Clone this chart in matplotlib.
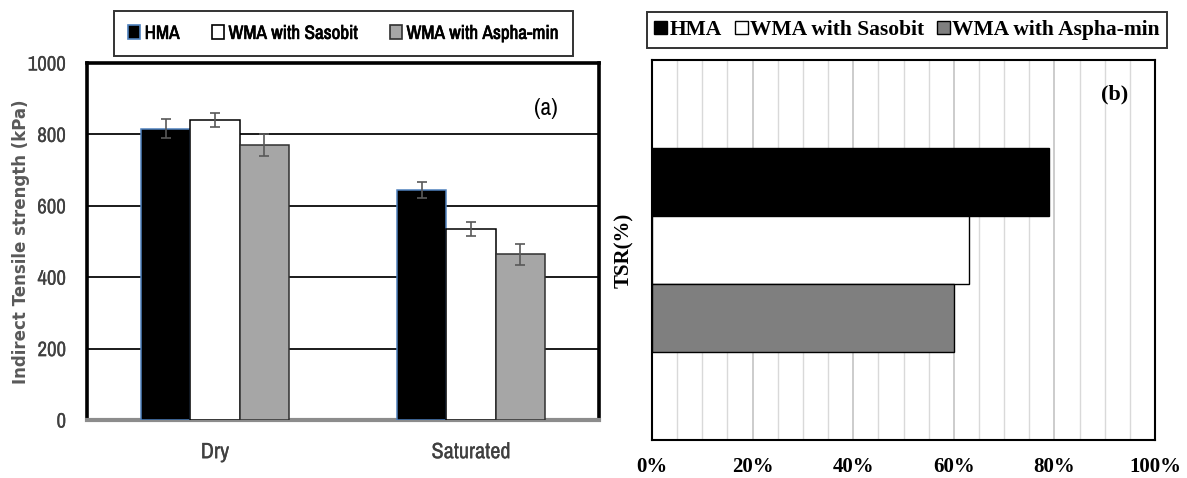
import matplotlib
matplotlib.use("Agg")
import matplotlib.pyplot as plt
from matplotlib.patches import Patch
from matplotlib.ticker import MultipleLocator, FuncFormatter
from matplotlib import font_manager
import matplotlib.patheffects as pe
import numpy as np

# ---------------- data ----------------
conditions = ["Dry", "Saturated"]
series = ["HMA", "WMA with Sasobit", "WMA with Aspha-min"]
itsm_hma = [816, 645]
itsm_sasobit = [840, 535]
itsm_aspha = [770, 464]
err_hma = [26, 22]
err_sasobit = [20, 20]
err_aspha = [30, 29]
y_ticks_a = [0, 200, 400, 600, 800, 1000]

tsr_values = [0.79, 0.63, 0.60]   # HMA, Sasobit, Aspha-min
x_ticks_b = [0.0, 0.2, 0.4, 0.6, 0.8, 1.0]

# ---------------- fonts ----------------
ttf = font_manager.fontManager.ttflist
narrow_name = None
for f in ttf:
    if "Narrow" in f.name or "Condensed" in f.name:
        narrow_name = f.name
        break
has_bold = False
if narrow_name:
    NARROW = dict(family=[narrow_name, "DejaVu Sans"])
    has_bold = any(f.name == narrow_name and (f.weight in ("bold", "semibold", "demibold")
                   or (isinstance(f.weight, int) and f.weight >= 600)) for f in ttf)
else:
    NARROW = dict(family=["Roboto", "DejaVu Sans"])
    has_bold = True
SERIF = ["Liberation Serif", "DejaVu Serif"]

W, H = 1187, 478
fig = plt.figure(figsize=(W / 100, H / 100), dpi=100)

def fx(px):
    return px / W

def fy(py):
    return 1 - py / H

# ---------------- panel (a) ----------------
axa = fig.add_axes([fx(87), fy(420), fx(599) - fx(87), fy(63) - fy(420)])
x = np.arange(len(conditions))
bw = 0.193
fills = ["#000000", "#ffffff", "#a6a6a6"]
edges = ["#4f81bd", "#000000", "#303030"]
vals = [itsm_hma, itsm_sasobit, itsm_aspha]
errs = [err_hma, err_sasobit, err_aspha]
for i in range(3):
    axa.bar(x + (i - 1) * bw, vals[i], width=bw, color=fills[i], edgecolor=edges[i],
            linewidth=1.1, zorder=3,
            yerr=errs[i], error_kw=dict(ecolor="#595959", elinewidth=1.2, capsize=3.5,
                                         capthick=1.2, zorder=4))
axa.set_xlim(-0.5, 1.5)
axa.set_ylim(0, 1000)
axa.set_yticks(y_ticks_a)
axa.set_xticks(x)
light = [pe.withStroke(linewidth=0.15, foreground="#404040")]
axa.set_xticklabels(conditions, fontsize=16, color="#404040", **NARROW)
axa.set_yticklabels([str(v) for v in y_ticks_a], fontsize=15, color="#404040", **NARROW)
for lab in axa.get_xticklabels() + axa.get_yticklabels():
    lab.set_path_effects(light)
axa.tick_params(axis="x", length=0, pad=16)
axa.tick_params(axis="y", length=0, pad=15)
axa.yaxis.grid(True, color="#1a1a1a", linewidth=1.4, zorder=0)
axa.set_axisbelow(True)
for s in ["left", "top", "right"]:
    axa.spines[s].set_linewidth(2.6)
    axa.spines[s].set_color("#000000")
axa.spines["bottom"].set_linewidth(3)
axa.spines["bottom"].set_color("#8c8c8c")
axa.set_ylabel("Indirect Tensile strength (kPa)", fontsize=12, fontweight="bold",
               color="#595959", family="DejaVu Sans")
axa.yaxis.set_label_coords(-0.112, 0.5)
axa.text(0.897, 0.872, "(a)", transform=axa.transAxes, fontsize=17,
         ha="center", va="center", color="#000000", **NARROW)

handles_a = [Patch(facecolor=fills[i], edgecolor=edges[i], linewidth=1.2) for i in range(3)]
lega = fig.legend(handles_a, series, loc="center", bbox_to_anchor=(fx(343.5), fy(33.5)),
                  ncol=3, frameon=True, fancybox=False, edgecolor="#000000",
                  prop=dict(weight="bold", size=13.8, **NARROW),
                  handlelength=0.6, handleheight=0.75, handletextpad=0.25,
                  columnspacing=1.7, borderpad=0.75)
lega.get_frame().set_linewidth(1.4)
if not has_bold:
    for t in lega.get_texts():
        t.set_path_effects([pe.withStroke(linewidth=0.5, foreground="#000000")])

# ---------------- panel (b) ----------------
axb = fig.add_axes([fx(652), fy(440), fx(1155) - fx(652), fy(60) - fy(440)])
bh = 0.179
fills_b = ["#000000", "#ffffff", "#7f7f7f"]
for i in range(3):
    axb.barh([(1 - i) * bh], [tsr_values[i]], height=bh, color=fills_b[i],
             edgecolor="#000000", linewidth=1.0, zorder=3)
axb.set_ylim(-0.5, 0.5)
axb.set_xlim(0, 1.0)
axb.set_yticks([])
axb.set_xticks(x_ticks_b)
axb.xaxis.set_minor_locator(MultipleLocator(0.05))
axb.xaxis.set_major_formatter(FuncFormatter(lambda v, p: f"{v * 100:.0f}%"))
for lab in axb.get_xticklabels():
    lab.set_fontfamily(SERIF)
    lab.set_fontweight("bold")
    lab.set_fontsize(15)
axb.tick_params(axis="x", which="both", length=0, pad=12)
axb.xaxis.grid(True, which="major", color="#bfbfbf", linewidth=1.1, zorder=0)
axb.xaxis.grid(True, which="minor", color="#d9d9d9", linewidth=1.0, zorder=0)
axb.set_axisbelow(True)
for s in axb.spines.values():
    s.set_linewidth(1.5)
    s.set_color("#000000")
axb.set_ylabel("TSR(%)", fontsize=15, fontweight="bold", family=SERIF)
axb.yaxis.set_label_coords(-0.036, 0.5)
axb.text(0.92, 0.908, "(b)", transform=axb.transAxes, fontsize=16, family=SERIF,
         fontweight="bold", ha="center", va="center")

handles_b = [Patch(facecolor=fills_b[i], edgecolor="#000000", linewidth=1.0) for i in range(3)]
legb = fig.legend(handles_b, series, loc="center", bbox_to_anchor=(fx(907), fy(30)),
                  ncol=3, frameon=True, fancybox=False, edgecolor="#000000",
                  prop=dict(family=SERIF, weight="bold", size=15.5),
                  handlelength=0.6, handleheight=0.6, handletextpad=0.1,
                  columnspacing=0.6, borderpad=0.35)
legb.get_frame().set_linewidth(1.4)

fig.savefig("out.png", dpi=100, facecolor="white")
